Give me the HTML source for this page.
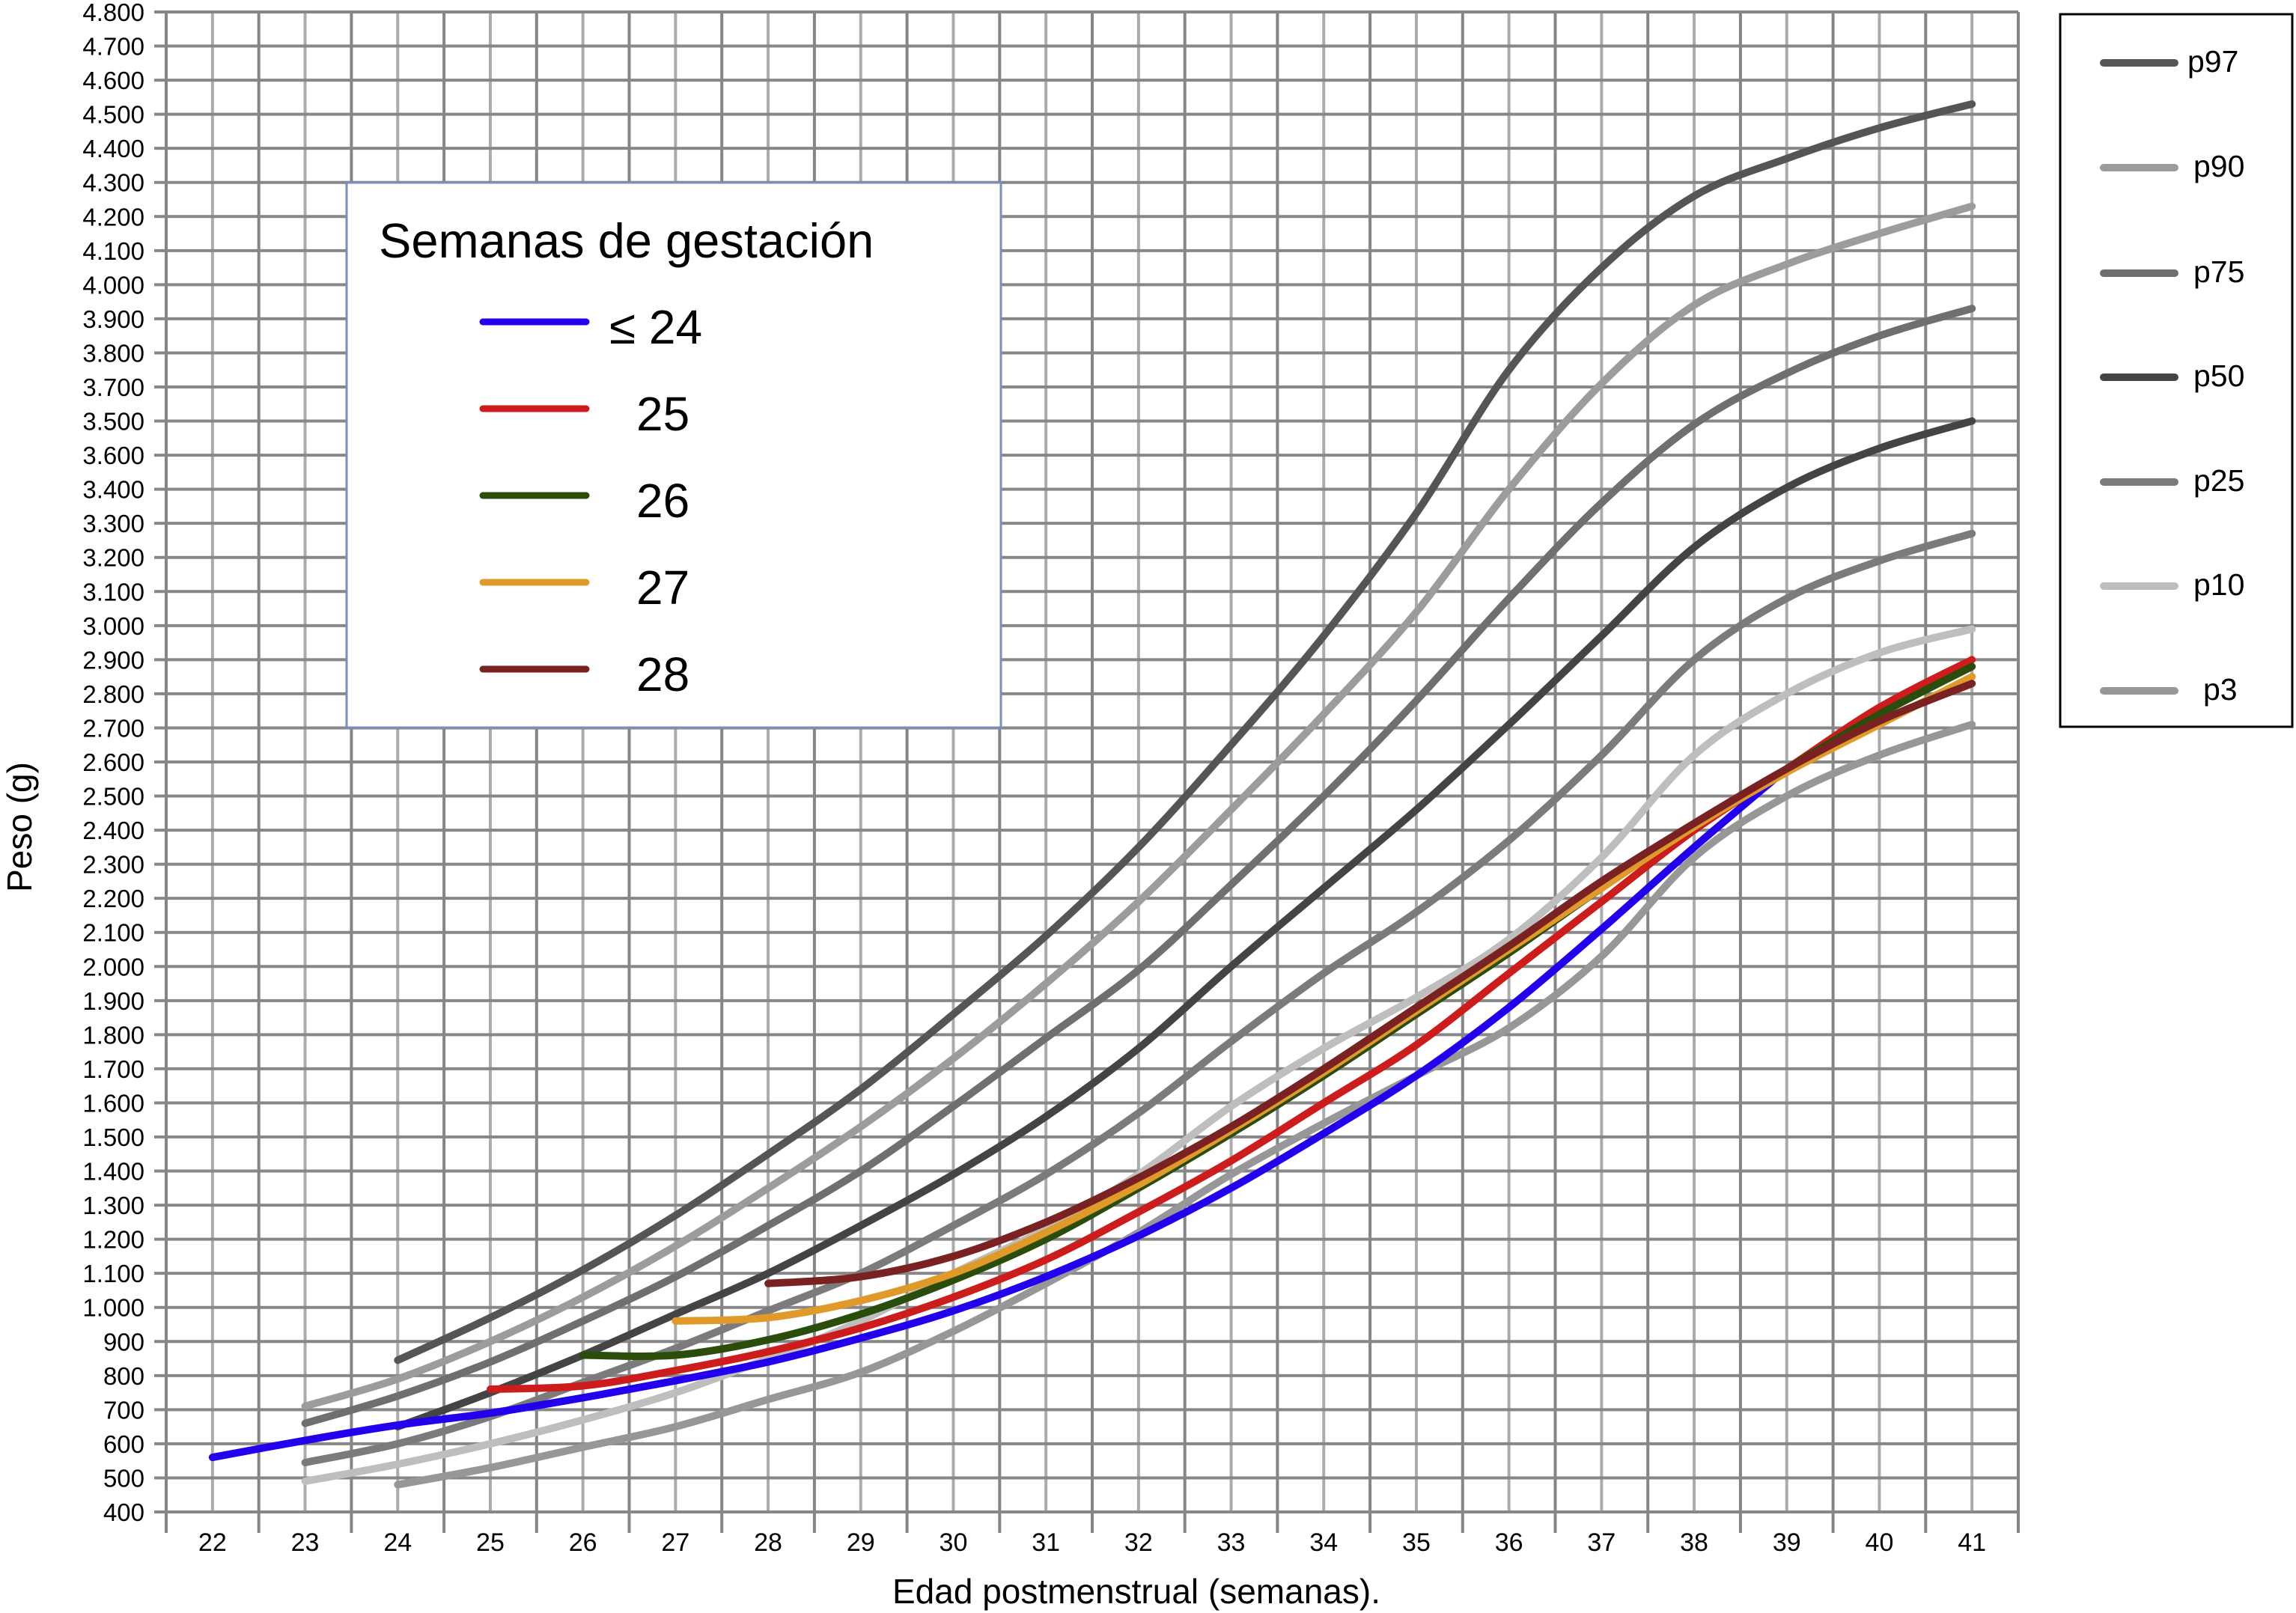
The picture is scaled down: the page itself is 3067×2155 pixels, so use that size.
<!DOCTYPE html>
<html><head><meta charset="utf-8"><style>
html,body{margin:0;padding:0;background:#fff;}
svg{display:block;font-family:"Liberation Sans",Arial,sans-serif;}
</style></head><body>
<svg id="chart" width="3067" height="2155" viewBox="0 0 3067 2155" xmlns="http://www.w3.org/2000/svg">
<g id="grid"></g>
<g id="axes"></g>
<g id="series"></g>
<text x="0" y="0" transform="translate(42,1105) rotate(-90)" text-anchor="middle" font-size="46">Peso (g)</text>
<text x="1518" y="2142" text-anchor="middle" font-size="46">Edad postmenstrual (semanas).</text>
<g>
<rect x="463" y="244" width="874" height="728" fill="#fff" stroke="#7a8fc0" stroke-width="3"/>
<text x="506" y="344" font-size="65">Semanas de gestación</text>
<g id="leg1"></g>
</g>
<g>
<rect x="2752" y="19" width="310" height="952" fill="#fff" stroke="#000" stroke-width="3"/>
<g id="leg2"></g>
</g>
</svg>
<script>
const weeks = [22,23,24,25,26,27,28,29,30,31,32,33,34,35,36,37,38,39,40,41];
const yTicks = [400,500,600,700,800,900,1000,1100,1200,1300,1400,1500,1600,1700,1800,1900,2000,2100,2200,2300,2400,2500,2600,2700,2800,2900,3000,3100,3200,3300,3400,3500,3600,3700,3800,3900,4000,4100,4200,4300,4400,4500,4600,4700,4800];
const yTickLabels = ['400','500','600','700','800','900','1.000','1.100','1.200','1.300','1.400','1.500','1.600','1.700','1.800','1.900','2.000','2.100','2.200','2.300','2.400','2.500','2.600','2.700','2.800','2.900','3.000','3.100','3.200','3.300','3.400','3.600','3.500','3.700','3.800','3.900','4.000','4.100','4.200','4.300','4.400','4.500','4.600','4.700','4.800'];
const p97Start = 24, p97 = [845,970,1110,1270,1450,1640,1860,2090,2350,2650,2970,3330,3750,4050,4260,4370,4460,4530];
const p90Start = 23, p90 = [710,790,900,1030,1180,1350,1530,1730,1950,2190,2460,2740,3040,3400,3710,3940,4060,4150,4230];
const p75Start = 23, p75 = [660,740,840,960,1090,1240,1400,1590,1790,1990,2240,2500,2780,3080,3360,3590,3740,3850,3930];
const p50Start = 24, p50 = [650,750,860,980,1100,1240,1390,1560,1760,2000,2230,2460,2710,2970,3230,3405,3520,3600];
const p25Start = 23, p25 = [545,600,680,780,880,990,1100,1240,1390,1570,1780,1980,2160,2370,2620,2900,3080,3190,3270];
const p10Start = 23, p10 = [490,540,600,670,750,850,960,1100,1230,1390,1590,1760,1910,2080,2320,2620,2800,2920,2990];
const p3Start = 24, p3 = [480,530,590,650,730,810,930,1070,1220,1390,1540,1680,1820,2030,2320,2500,2620,2710];
const g24Start = 22, g24 = [560,610,655,690,735,785,840,910,990,1090,1210,1350,1510,1680,1880,2110,2350,2580];
const g25Start = 25, g25 = [760,770,815,870,940,1030,1140,1280,1430,1600,1770,1980,2190,2400,2580,2760,2900];
const g26Start = 26, g26 = [860,860,905,980,1080,1200,1350,1510,1680,1860,2040,2230,2410,2580,2740,2880];
const g27Start = 27, g27 = [960,970,1020,1100,1220,1360,1520,1690,1870,2050,2230,2410,2570,2710,2850];
const g28Start = 28, g28 = [1070,1090,1150,1250,1380,1530,1700,1880,2060,2250,2420,2580,2720,2830];

const NS='http://www.w3.org/2000/svg';
const L=222, R=2696, T=16, B=2020, STEP=(R-L)/20;
const xS = w => L + STEP*(w-21.5);
const yS = v => T + (4800-v)*(B-T)/4400;
function mk(tag, attrs, parent){const e=document.createElementNS(NS,tag);for(const k in attrs)e.setAttribute(k,attrs[k]);parent.appendChild(e);return e;}
const grid=document.getElementById('grid'), axes=document.getElementById('axes'), ser=document.getElementById('series');
for(let i=0;i<=20;i++){
  const x=L+STEP*i;
  const l=mk('line',{x1:x,y1:T,x2:x,y2:2048,stroke:'#858585','stroke-width':4},grid);
  
  
}
weeks.forEach(w=>{
  const l=mk('line',{x1:xS(w),y1:T,x2:xS(w),y2:B,stroke:'#ababab','stroke-width':4},grid);
  
  
  const t=mk('text',{x:xS(w),y:2072,'text-anchor':'middle','font-size':34},axes);
  t.textContent=w;
  
  
});
yTicks.forEach((v,i)=>{
  const l=mk('line',{x1:206,y1:yS(v),x2:R,y2:yS(v),stroke:'#878787','stroke-width':4},grid);
  
  
  const t=mk('text',{x:193,y:yS(v)+12,'text-anchor':'end','font-size':33},axes);
  t.textContent=yTickLabels[i];
  
  
});
function draw(start, vals, color, width, name){
  const P=vals.map((v,i)=>[xS(start+i),yS(v)]);
  let d='M'+P[0][0].toFixed(1)+','+P[0][1].toFixed(1);
  for(let i=0;i<P.length-1;i++){
    const p0=P[Math.max(i-1,0)],p1=P[i],p2=P[i+1],p3=P[Math.min(i+2,P.length-1)];
    const c1=[p1[0]+(p2[0]-p0[0])/6,p1[1]+(p2[1]-p0[1])/6];
    const c2=[p2[0]-(p3[0]-p1[0])/6,p2[1]-(p3[1]-p1[1])/6];
    d+=' C'+c1[0].toFixed(1)+','+c1[1].toFixed(1)+' '+c2[0].toFixed(1)+','+c2[1].toFixed(1)+' '+p2[0].toFixed(1)+','+p2[1].toFixed(1);
  }
  const p=mk('path',{d:d,fill:'none',stroke:color,'stroke-width':width,'stroke-linecap':'round','stroke-linejoin':'round'},ser);
  
  
}
const pc={p97:'#555555',p90:'#9c9c9c',p75:'#6f6f6f',p50:'#444444',p25:'#7b7b7b',p10:'#bebebe',p3:'#979797'};
draw(p3Start,p3,pc.p3,10,'p3-line');
draw(p10Start,p10,pc.p10,10,'p10-line');
draw(p25Start,p25,pc.p25,10,'p25-line');
draw(p50Start,p50,pc.p50,10,'p50-line');
draw(p75Start,p75,pc.p75,10,'p75-line');
draw(p90Start,p90,pc.p90,10,'p90-line');
draw(p97Start,p97,pc.p97,10,'p97-line');
draw(g24Start,g24,'#2200ee',10,'ga-24-line');
draw(g25Start,g25,'#cc1c1c',10,'ga-25-line');
draw(g26Start,g26,'#2a4d0c',10,'ga-26-line');
draw(g27Start,g27,'#e09a2a',10,'ga-27-line');
draw(g28Start,g28,'#7a2222',10,'ga-28-line');
const leg1=document.getElementById('leg1');
const l1Labels=['\u2264 24','25','26','27','28'], l1Colors=['#2200ee','#cc1c1c','#2a4d0c','#e09a2a','#7a2222'];
l1Labels.forEach((lab,i)=>{
  const y=430+i*116;
  const l=mk('line',{x1:645,y1:y,x2:783,y2:y,stroke:l1Colors[i],'stroke-width':9,'stroke-linecap':'round'},leg1);
  
  
  const t=mk('text',{x:i===0?814:850,y:y+29,'font-size':64},leg1);
  t.textContent=lab;
  
  
});
const leg2=document.getElementById('leg2');
const l2Labels=['p97','p90','p75','p50','p25','p10','p3'];
const l2Y=[84,224,365,504,644,783,923], l2X=[2922,2930,2930,2930,2930,2930,2943];
l2Labels.forEach((lab,i)=>{
  const l=mk('line',{x1:2810,y1:l2Y[i],x2:2905,y2:l2Y[i],stroke:pc[lab],'stroke-width':10,'stroke-linecap':'round'},leg2);
  
  
  const t=mk('text',{x:l2X[i],y:l2Y[i]+12,'font-size':41},leg2);
  t.textContent=lab;
  
  
});
</script>
</body></html>
